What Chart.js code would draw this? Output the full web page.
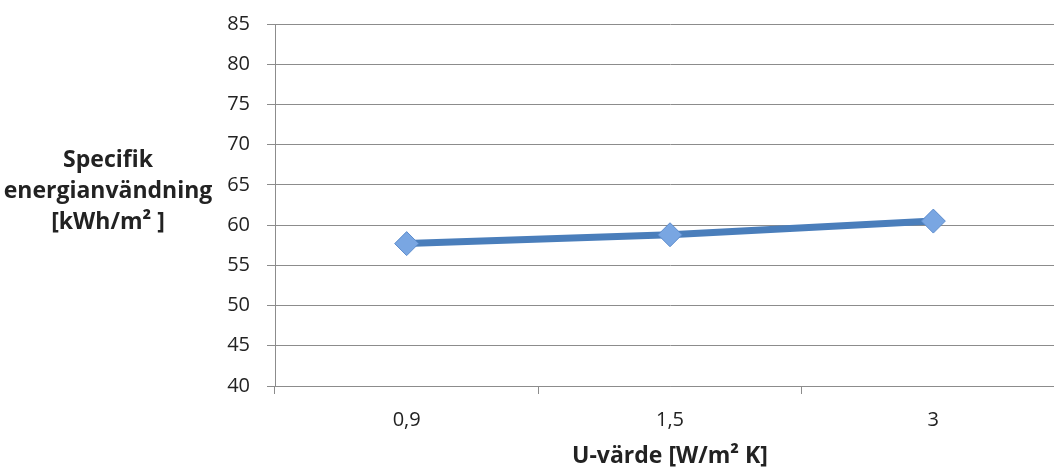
<!DOCTYPE html>
<html>
<head>
<meta charset="utf-8">
<script src="https://cdn.jsdelivr.net/npm/chart.js@4/dist/chart.umd.min.js"></script>
<style>
html,body{margin:0;padding:0;background:#fff;overflow:hidden;}
#wrap{position:relative;width:1078px;height:470px;}
</style>
</head>
<body>
<div id="wrap"><canvas id="c" width="1078" height="470"></canvas></div>
<script>
const categories = ['0,9', '1,5', '3'];
const energyValues = [57.7, 58.8, 60.5];
const yTitleLines = ['Specifik', 'energianvändning', '[kWh/m² ]'];
const xTitle = 'U-värde [W/m² K]';
const yMin = 40, yMax = 85, yStep = 5;

const FONT = '"Open Sans", "DejaVu Sans", sans-serif';

const leftTitlePlugin = {
  id: 'leftTitle',
  afterDraw(chart) {
    const ctx = chart.ctx;
    ctx.save();
    ctx.font = 'bold 23px ' + FONT;
    ctx.fillStyle = '#222';
    ctx.textAlign = 'center';
    ctx.textBaseline = 'middle';
    const ys = [160, 191, 222];
    yTitleLines.forEach((t, i) => ctx.fillText(t, 108, ys[i]));
    ctx.restore();
  }
};

new Chart(document.getElementById('c'), {
  type: 'line',
  data: {
    labels: categories,
    datasets: [{
      data: energyValues,
      borderColor: '#4a7ebb',
      borderWidth: 7,
      pointStyle: 'rectRot',
      pointRadius: 12,
      pointHoverRadius: 12,
      pointBackgroundColor: '#79a6e2',
      pointBorderColor: '#5b8bcc',
      pointBorderWidth: 1,
      tension: 0
    }]
  },
  options: {
    responsive: false,
    animation: false,
    devicePixelRatio: 1,
    plugins: { legend: { display: false }, tooltip: { enabled: false } },
    layout: { padding: { top: 24, right: 4, left: 0, bottom: 0 } },
    scales: {
      x: {
        type: 'category',
        offset: true,
        grid: { display: true, drawOnChartArea: false, drawTicks: true, tickLength: 8, color: '#8c8c8c', offset: true },
        border: { display: true, color: '#8c8c8c', width: 1 },
        ticks: { font: { size: 20, family: FONT }, color: '#222', padding: 14 },
        title: { display: true, text: xTitle, font: { size: 23, weight: 'bold', family: FONT }, color: '#222', padding: { top: 3, bottom: 0 } },
        afterFit(scale) { scale.height = 84; }
      },
      y: {
        min: yMin, max: yMax,
        grid: { color: '#8c8c8c', lineWidth: 1, tickLength: 8, drawTicks: true },
        border: { display: true, color: '#8c8c8c', width: 1 },
        ticks: { stepSize: yStep, font: { size: 20, family: FONT }, color: '#222', padding: 17 },
        afterFit(scale) { scale.width = 275; scale.paddingTop = 0; scale.paddingBottom = 0; }
      }
    }
  },
  plugins: [leftTitlePlugin]
});
</script>
</body>
</html>
